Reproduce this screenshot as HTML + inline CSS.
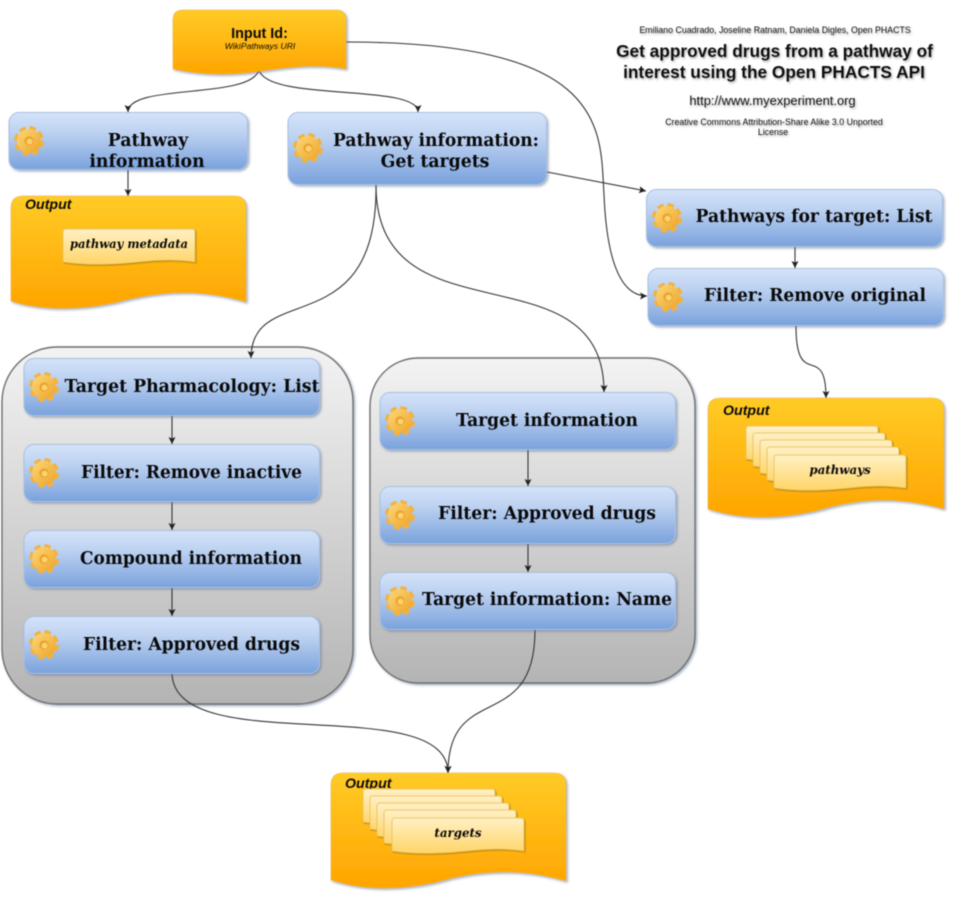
<!DOCTYPE html>
<html><head><meta charset="utf-8">
<style>
html,body{margin:0;padding:0;background:#fff;width:955px;height:900px;overflow:hidden}
svg{display:block;filter:blur(.4px)}
text{text-anchor:middle;fill:#0a0a0a}
.n{font:bold 17.3px "DejaVu Serif",serif}
.o{font:italic bold 14.2px "Liberation Sans",sans-serif;text-anchor:start}
.d{font:italic bold 11.8px "DejaVu Serif",serif}
.node{fill:url(#blue);stroke:#a9c0e4;stroke-width:1;filter:url(#sh)}
.grp{stroke:#6f6f6f;stroke-width:1.4;fill:url(#gray);filter:url(#sh)}
.doc{fill:url(#orange);stroke:#eeb14a;stroke-width:.6;filter:url(#sh)}
.pg{fill:url(#pale);stroke:#e4c05e;stroke-width:.8;filter:url(#sh2)}
.c{fill:none;stroke:#333;stroke-width:1.1;marker-end:url(#arr)}
</style></head>
<body>
<svg width="955" height="900" viewBox="0 0 955 900" xmlns="http://www.w3.org/2000/svg">
<defs>
<linearGradient id="blue" x1="0" y1="0" x2="0" y2="1"><stop offset="0" stop-color="#d4e3f9"/><stop offset=".35" stop-color="#bdd2f1"/><stop offset="1" stop-color="#7aa2dd"/></linearGradient>
<linearGradient id="orange" x1="0" y1="0" x2="0" y2="1"><stop offset="0" stop-color="#ffcb26"/><stop offset="1" stop-color="#ffa500"/></linearGradient>
<linearGradient id="gray" x1="0" y1="0" x2="0" y2="1"><stop offset="0" stop-color="#f3f3f3"/><stop offset="1" stop-color="#b4b4b4"/></linearGradient>
<linearGradient id="pale" x1="0" y1="0" x2="0" y2="1"><stop offset="0" stop-color="#fff0c4"/><stop offset="1" stop-color="#ffd568"/></linearGradient>
<linearGradient id="gear" x1="0" y1="0" x2="1" y2="1"><stop offset="0" stop-color="#fdd877"/><stop offset="1" stop-color="#eea328"/></linearGradient>
<filter id="sh" x="-10%" y="-10%" width="125%" height="125%"><feDropShadow dx="1.5" dy="1.5" stdDeviation="1.2" flood-color="#5c6f90" flood-opacity=".55"/></filter>
<filter id="sh2" x="-10%" y="-10%" width="125%" height="125%"><feDropShadow dx="1" dy="1" stdDeviation=".4" flood-color="#a87800" flood-opacity=".8"/></filter>
<filter id="ts" x="-5%" y="-30%" width="110%" height="170%"><feDropShadow dx="1" dy="1.5" stdDeviation="1" flood-color="#666" flood-opacity=".55"/></filter>
<marker id="arr" markerUnits="userSpaceOnUse" markerWidth="8" markerHeight="8" refX="7" refY="3.5" orient="auto"><path d="M0 0L7 3.5L0 7L1.5 3.5z" fill="#222"/></marker>
<g id="g">
<circle r="12.6" fill="none" stroke="#f2b23f" stroke-width="4.6" stroke-dasharray="6.2 3.7"/>
<circle r="12" fill="url(#gear)"/>
<circle r="4.6" fill="#eaa32e"/>
<circle r="3" cx=".6" cy=".6" fill="#fbd26c"/>
</g>
<path id="pgp" d="M3 0H129Q132 0 132 3V33C110 30 95 31 70 33.500C45 36 20 36 0 33V3Q0 0 3 0z"/>
</defs>

<!-- groups -->
<rect class="grp" x="2" y="347" width="351" height="357" rx="55"/>
<rect class="grp" x="370" y="358" width="325" height="325" rx="48"/>

<!-- connectors -->
<path class="c" d="M259 70C250 100 128 83 128 112"/>
<path class="c" d="M259 70C268 102 418 83 418 112"/>
<path class="c" d="M346 42C610 42 600 130 604 195C607 265 622 296 647 296"/>
<path class="c" d="M128 170V196"/>
<path class="c" d="M547 172L646 191"/>
<path class="c" d="M376 185C378 345 251 280 251 358"/>
<path class="c" d="M376 185C376 345 604 245 604 392"/>
<path class="c" d="M795 247V268"/>
<path class="c" d="M796 326C796 392 826 340 826 398"/>
<path class="c" d="M172 416V444"/>
<path class="c" d="M172 502V530"/>
<path class="c" d="M172 588V616"/>
<path class="c" d="M528 450V486"/>
<path class="c" d="M528 544V572"/>
<path class="c" d="M172 674C176 760 448 690 448 773"/>
<path class="c" d="M535 630C535 735 448 680 448 773"/>

<!-- input -->
<path class="doc" d="M183 10H336Q346 10 346 20V69C320 64 295 66 262 71C228 76 200 75 173 69V20Q173 10 183 10z"/>
<text x="259.500" y="38" style="font:bold 14.4px 'Liberation Sans',sans-serif">Input Id:</text>
<text x="260" y="49" style="font:italic 8.6px 'Liberation Sans',sans-serif">WikiPathways URI</text>

<!-- outputs -->
<path class="doc" d="M23 196H234Q246 196 246 208V302C205 290 170 290 130 299C90 310 45 312 11 301V208Q11 196 23 196z"/>
<path class="doc" d="M720 398H932Q944 398 944 410V509C905 498 870 497 830 507C790 519 745 521 708 509V410Q708 398 720 398z"/>
<path class="doc" d="M343 773H554Q566 773 566 785V881C527 870 492 869 452 878C412 890 367 892 331 880V785Q331 773 343 773z"/>
<text class="o" x="25" y="209">Output</text>
<text class="o" x="723" y="415">Output</text>
<text class="o" x="345" y="788">Output</text>

<!-- pages -->
<use href="#pgp" class="pg" transform="translate(63 229)"/>
<text class="d" x="129" y="248" textLength="118" lengthAdjust="spacingAndGlyphs">pathway metadata</text>

<use href="#pgp" class="pg" transform="translate(746 426)"/>
<use href="#pgp" class="pg" transform="translate(753 433)"/>
<use href="#pgp" class="pg" transform="translate(760 440)"/>
<use href="#pgp" class="pg" transform="translate(767 447)"/>
<use href="#pgp" class="pg" transform="translate(774 455)"/>
<text class="d" x="840" y="474">pathways</text>

<use href="#pgp" class="pg" transform="translate(363 789)"/>
<use href="#pgp" class="pg" transform="translate(370 796)"/>
<use href="#pgp" class="pg" transform="translate(377 803)"/>
<use href="#pgp" class="pg" transform="translate(384 810)"/>
<use href="#pgp" class="pg" transform="translate(392 818)"/>
<text class="d" x="458" y="837">targets</text>

<!-- nodes -->
<rect class="node" x="9" y="112.500" width="238.500" height="57" rx="10"/>
<rect class="node" x="288" y="112.500" width="258.500" height="72" rx="10"/>
<rect class="node" x="646.500" y="189.500" width="296" height="57" rx="10"/>
<rect class="node" x="648" y="268.500" width="295.500" height="57" rx="10"/>
<rect class="node" x="24" y="358.500" width="295.500" height="57" rx="10"/>
<rect class="node" x="24" y="444.500" width="295.500" height="57" rx="10"/>
<rect class="node" x="24" y="530.500" width="295.500" height="57" rx="10"/>
<rect class="node" x="24" y="616.500" width="295.500" height="57" rx="10"/>
<rect class="node" x="380" y="392.500" width="295.500" height="57" rx="10"/>
<rect class="node" x="380" y="486.500" width="295.500" height="57" rx="10"/>
<rect class="node" x="380" y="572.500" width="295.500" height="57" rx="10"/>

<use href="#g" x="29" y="141"/>
<use href="#g" x="308" y="148"/>
<use href="#g" x="667" y="218"/>
<use href="#g" x="668" y="297"/>
<use href="#g" x="44" y="387"/>
<use href="#g" x="44" y="473"/>
<use href="#g" x="44" y="559"/>
<use href="#g" x="44" y="645"/>
<use href="#g" x="400" y="421"/>
<use href="#g" x="400" y="515"/>
<use href="#g" x="400" y="601"/>

<text class="n" x="148" y="146">Pathway</text>
<text class="n" x="147" y="167">information</text>
<text class="n" x="436" y="146" textLength="206" lengthAdjust="spacingAndGlyphs">Pathway information:</text>
<text class="n" x="435" y="167">Get targets</text>
<text class="n" x="814" y="222" textLength="237" lengthAdjust="spacingAndGlyphs">Pathways for target: List</text>
<text class="n" x="815" y="301" textLength="222" lengthAdjust="spacingAndGlyphs">Filter: Remove original</text>
<text class="n" x="192" y="392">Target Pharmacology: List</text>
<text class="n" x="191.500" y="478" textLength="221" lengthAdjust="spacingAndGlyphs">Filter: Remove inactive</text>
<text class="n" x="191" y="564" textLength="222" lengthAdjust="spacingAndGlyphs">Compound information</text>
<text class="n" x="191.500" y="650" textLength="217" lengthAdjust="spacingAndGlyphs">Filter: Approved drugs</text>
<text class="n" x="547" y="426" textLength="182" lengthAdjust="spacingAndGlyphs">Target information</text>
<text class="n" x="547" y="519" textLength="218" lengthAdjust="spacingAndGlyphs">Filter: Approved drugs</text>
<text class="n" x="547" y="605" textLength="250" lengthAdjust="spacingAndGlyphs">Target information: Name</text>

<!-- title block -->
<g filter="url(#ts)">
<text x="775" y="33" style="font:8.800px 'Liberation Sans',sans-serif">Emiliano Cuadrado, Joseline Ratnam, Daniela Digles, Open PHACTS</text>
<text x="774.500" y="57" style="font:bold 17.300px 'Liberation Sans',sans-serif">Get approved drugs from a pathway of</text>
<text x="774" y="78" style="font:bold 17.300px 'Liberation Sans',sans-serif">interest using the Open PHACTS API</text>
<text x="772.500" y="105" style="font:12.900px 'Liberation Sans',sans-serif">http://www.myexperiment.org</text>
<text x="774" y="125" style="font:8.800px 'Liberation Sans',sans-serif">Creative Commons Attribution-Share Alike 3.0 Unported</text>
<text x="773" y="135" style="font:8.800px 'Liberation Sans',sans-serif">License</text>
</g>
</svg>
</body></html>
